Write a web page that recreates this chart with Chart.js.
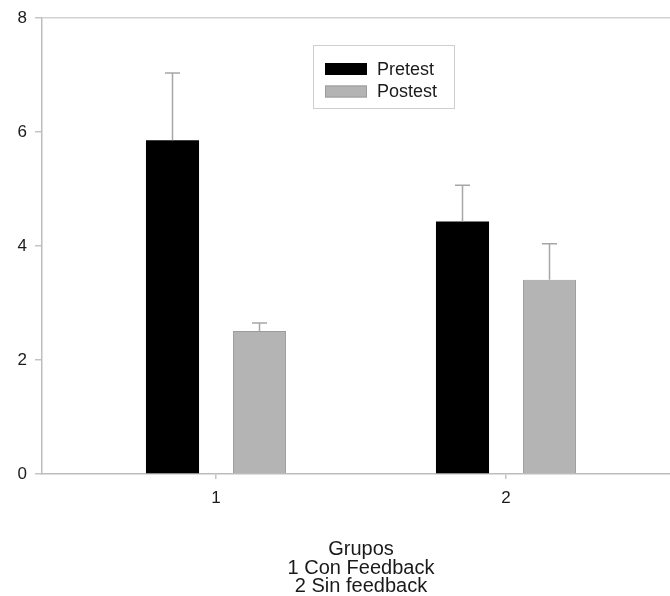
<!DOCTYPE html>
<html>
<head>
<meta charset="utf-8">
<script src="https://cdn.jsdelivr.net/npm/chart.js@4"></script>
<style>
  html, body { margin: 0; padding: 0; background: #ffffff; overflow: hidden; }
  #wrap { position: relative; width: 680px; height: 596px; }
</style>
</head>
<body>
<div id="wrap"><canvas id="c" width="680" height="596"></canvas></div>
<script>
// ---- data ----
const categories = [1, 2];
const seriesNames = ['Pretest', 'Postest'];
const pretest = [5.86, 4.43];
const postest = [2.51, 3.41];
const pretestErr = [1.18, 0.64];
const postestErr = [0.14, 0.63];
const yTicks = [0, 2, 4, 6, 8];
const titleLines = ['Grupos', '1 Con Feedback', '2 Sin feedback'];

const FONT = "'Liberation Sans', Arial, Helvetica, sans-serif";
const errors = [pretestErr, postestErr];

const errorBarPlugin = {
  id: 'errorBars',
  afterDatasetsDraw(chart) {
    const ctx = chart.ctx;
    const y = chart.scales.y;
    ctx.save();
    ctx.strokeStyle = '#a6a6a6';
    ctx.lineWidth = 1.5;
    chart.data.datasets.forEach((ds, di) => {
      const meta = chart.getDatasetMeta(di);
      meta.data.forEach((bar, i) => {
        const v = ds.data[i].y;
        const top = y.getPixelForValue(v + errors[di][i]);
        ctx.beginPath();
        ctx.moveTo(bar.x, bar.y);
        ctx.lineTo(bar.x, top);
        ctx.moveTo(bar.x - 7.5, top);
        ctx.lineTo(bar.x + 7.5, top);
        ctx.stroke();
      });
    });
    ctx.restore();
  }
};

const legendPlugin = {
  id: 'boxLegend',
  afterDraw(chart) {
    const ctx = chart.ctx;
    const bx = 313, by = 45, bw = 141, bh = 63;
    ctx.save();
    ctx.strokeStyle = '#cfcfcf';
    ctx.lineWidth = 1;
    ctx.strokeRect(bx + 0.5, by + 0.5, bw, bh);
    ctx.font = '18px ' + FONT;
    ctx.textBaseline = 'middle';
    ctx.textAlign = 'left';
    const rows = [69, 91.5];
    chart.data.datasets.forEach((ds, i) => {
      const cy = rows[i];
      ctx.fillStyle = ds.backgroundColor;
      ctx.fillRect(325, cy - 6, 42, 12);
      if (ds.borderWidth) {
        ctx.strokeStyle = ds.borderColor;
        ctx.lineWidth = 1;
        ctx.strokeRect(325.5, cy - 5.5, 41, 11);
      }
      ctx.fillStyle = '#1a1a1a';
      ctx.fillText(ds.label, 377, cy + 1);
    });
    ctx.restore();
  }
};

new Chart(document.getElementById('c'), {
  type: 'bar',
  data: {
    datasets: [
      {
        label: seriesNames[0],
        data: categories.map((c, i) => ({ x: c, y: pretest[i] })),
        backgroundColor: '#000000',
        borderWidth: 0
      },
      {
        label: seriesNames[1],
        data: categories.map((c, i) => ({ x: c, y: postest[i] })),
        backgroundColor: '#b4b4b4',
        borderColor: '#9c9c9c',
        borderWidth: 1
      }
    ]
  },
  options: {
    responsive: false,
    animation: false,
    events: [],
    categoryPercentage: 0.6,
    barPercentage: 0.61,
    layout: { padding: { top: 16, left: 0, right: 0, bottom: 0 } },
    plugins: { legend: { display: false }, tooltip: { enabled: false } },
    scales: {
      x: {
        type: 'linear',
        offset: false,
        min: 0.4,
        max: 2.6,
        afterBuildTicks: (s) => { s.ticks = categories.map(v => ({ value: v })); },
        afterFit: (s) => { s.height = 122; },
        grid: { offset: false, drawOnChartArea: false, tickLength: 5, tickColor: '#c4c4c4', lineWidth: 1.5 },
        border: { color: '#bdbdbd', width: 1.5 },
        ticks: {
          color: '#1a1a1a',
          font: { family: FONT, size: 17 },
          padding: 9,
          maxRotation: 0,
          callback: (v) => String(v)
        },
        title: {
          display: true,
          text: titleLines,
          color: '#1a1a1a',
          font: { family: FONT, size: 20, lineHeight: '18.5px' },
          padding: { top: 0, bottom: 0 }
        }
      },
      y: {
        min: 0,
        max: 8,
        afterBuildTicks: (s) => { s.ticks = yTicks.map(v => ({ value: v })); },
        afterFit: (s) => { s.width = 42; },
        grid: {
          color: (c) => (c.tick && c.tick.value === 8 ? '#d2d2d2' : 'rgba(0,0,0,0)'),
          lineWidth: 1.5,
          tickLength: 7,
          tickColor: '#c4c4c4'
        },
        border: { color: '#bdbdbd', width: 1.5 },
        ticks: {
          color: '#1a1a1a',
          font: { family: FONT, size: 17 },
          padding: 8
        }
      }
    }
  },
  plugins: [errorBarPlugin, legendPlugin]
});
</script>
</body>
</html>
